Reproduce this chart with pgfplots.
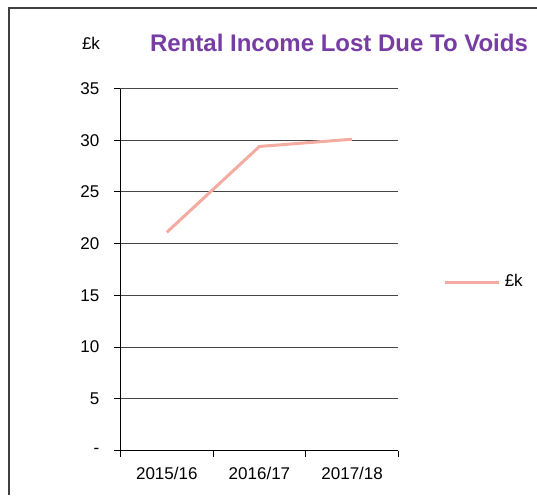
\documentclass[border=0pt]{standalone}
\usepackage{fontspec}
\setmainfont{Liberation Sans}
\usepackage{pgfplots}
\pgfplotsset{compat=1.18}
\definecolor{linepink}{RGB}{244,172,162}
\definecolor{titlepurple}{RGB}{120,60,165}
\definecolor{gridgray}{RGB}{70,70,70}
\begin{document}
\begin{tikzpicture}[x=0.5pt,y=0.5pt]
\useasboundingbox (0,0) rectangle (537,495);
% page frame (left and top only, rest is cropped)
\draw[black!75,line width=0.7pt] (9,0) -- (9,487) -- (537,487);
\node[font=\fontsize{8.5}{10}\selectfont,anchor=center] at (91,452) {£k};
\node[font=\fontsize{12}{14}\selectfont\bfseries,text=titlepurple,anchor=center] at (339,452) {Rental Income Lost Due To Voids};
\begin{axis}[
  scale only axis, width=139pt, height=181pt,
  at={(130,43)}, anchor=south west,
  xmin=-0.5, xmax=2.5, ymin=0, ymax=35,
  axis x line*=bottom, axis y line*=left,
  axis line style={black,line width=0.5pt},
  xtick={0,1,2}, xticklabels={2015/16,2016/17,2017/18},
  minor xtick={-0.5,0.5,1.5,2.5},
  major x tick style={draw=none},
  minor x tick style={black,line width=0.5pt},
  ytick={0,5,...,35}, yticklabels={-,5,10,15,20,25,30,35},
  ymajorgrids, grid style={gridgray,line width=0.5pt},
  tick align=outside, tickwidth=3pt, minor tick length=3pt,
  y tick style={black,line width=0.5pt},
  ticklabel style={font=\fontsize{8.5}{10}\selectfont},
  yticklabel style={xshift=-4pt},
  xticklabel style={yshift=-2pt},
  clip=false,
  legend style={draw=none,fill=none,at={(1.14,0.465)},anchor=west,
    font=\fontsize{8.5}{10}\selectfont},
  legend image code/.code={\draw[#1] (0pt,0pt) -- (27pt,0pt);},
]
\addplot[linepink,line width=1.5pt,no marks] coordinates {(0,21.1) (1,29.4) (2,30.1)};
\addlegendentry{£k}
\end{axis}
\end{tikzpicture}
\end{document}
